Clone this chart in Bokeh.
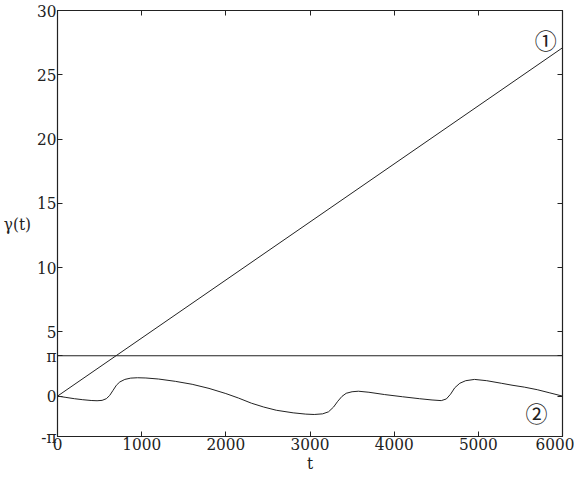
import math
from bokeh.plotting import figure
from bokeh.models import FixedTicker, LinearAxis, Range1d
from bokeh.core.properties import value
from bokeh.embed import file_html
from bokeh.resources import INLINE

PI = math.pi

# Curve 1: linear growth
t1 = [0, 6000]
g1 = [0.0, 27.1]

# Horizontal reference at pi
t_pi = [0, 6000]
g_pi = [PI, PI]

# Curve 2: bounded oscillation
t2 = [0, 100, 200, 300, 400, 470, 530, 580, 620, 660, 700, 740, 800, 870, 950,
      1050, 1200, 1400, 1600, 1800, 2000, 2150, 2304, 2450, 2600, 2800, 2950,
      3050, 3150, 3220, 3280, 3330, 3380, 3430, 3500, 3575, 3700, 3887, 4100,
      4300, 4450, 4560, 4620, 4670, 4720, 4780, 4850, 4955, 5100, 5273, 5400,
      5546, 5700, 5850, 6000]
g2 = [0.0, -0.1, -0.2, -0.28, -0.34, -0.36, -0.33, -0.2, 0.05, 0.45, 0.85, 1.1,
      1.3, 1.4, 1.43, 1.41, 1.33, 1.15, 0.92, 0.6, 0.2, -0.15, -0.55, -0.85,
      -1.1, -1.3, -1.4, -1.43, -1.38, -1.22, -0.85, -0.4, -0.02, 0.22, 0.34,
      0.38, 0.3, 0.12, -0.05, -0.2, -0.3, -0.35, -0.22, 0.15, 0.65, 1.0, 1.2,
      1.3, 1.2, 1.0, 0.85, 0.7, 0.5, 0.25, 0.0]

x_ticks = [0, 1000, 2000, 3000, 4000, 5000, 6000]
y_ticks = [-PI, 0, PI, 5, 10, 15, 20, 25, 30]
y_tick_labels = {-PI: "-π", 0: "0", PI: "π", 5: "5", 10: "10", 15: "15",
                 20: "20", 25: "25", 30: "30"}

label_text = ["①", "②"]
label_t = [5800, 5690]
label_g = [27.8, -1.25]

FONT = "DejaVu Serif Condensed"
INK = "#222222"

p = figure(width=574, height=475, output_backend="svg", toolbar_location=None,
           x_range=Range1d(0, 6000), y_range=Range1d(-PI, 30),
           min_border_left=48, min_border_right=12, min_border_top=10,
           min_border_bottom=0)
p.grid.visible = False
p.outline_line_color = INK
p.outline_line_width = 1.2
p.background_fill_color = "white"
p.border_fill_color = "white"

p.line(t1, g1, line_color=INK, line_width=1)
p.line(t_pi, g_pi, line_color=INK, line_width=1.2)
p.line(t2, g2, line_color=INK, line_width=1)

p.text(x=label_t, y=label_g, text=label_text, text_font=value("Noto Sans CJK JP"),
       text_font_size="22px", text_align="center", text_baseline="middle",
       text_color=INK)

def style_axis(ax):
    ax.axis_line_color = INK
    ax.major_tick_line_color = INK
    ax.major_tick_in = 5
    ax.major_tick_out = 0
    ax.minor_tick_line_color = None
    ax.major_label_text_font = FONT
    ax.major_label_text_font_size = "17px"
    ax.major_label_text_color = INK
    ax.major_label_standoff = 1
    ax.axis_label_text_font = FONT
    ax.axis_label_text_font_size = "17px"
    ax.axis_label_text_font_style = "normal"
    ax.axis_label_text_color = INK

p.xaxis.ticker = FixedTicker(ticks=x_ticks)
p.yaxis.ticker = FixedTicker(ticks=y_ticks)
p.yaxis.major_label_overrides = y_tick_labels
p.xaxis.axis_label = "t"
p.xaxis.axis_label_standoff = 0
p.yaxis.axis_label = "γ(t)"
p.yaxis.axis_label_orientation = "horizontal"
p.yaxis.axis_label_standoff = 3
style_axis(p.xaxis[0])
style_axis(p.yaxis[0])

top = LinearAxis(ticker=FixedTicker(ticks=x_ticks))
right = LinearAxis(ticker=FixedTicker(ticks=y_ticks))
style_axis(top)
style_axis(right)
top.major_label_overrides = {t: "" for t in x_ticks}
right.major_label_overrides = {t: "" for t in y_ticks}
top.major_label_standoff = 0
right.major_label_standoff = 0
p.add_layout(top, "above")
p.add_layout(right, "right")

open("out.html", "w").write(file_html(p, INLINE))
